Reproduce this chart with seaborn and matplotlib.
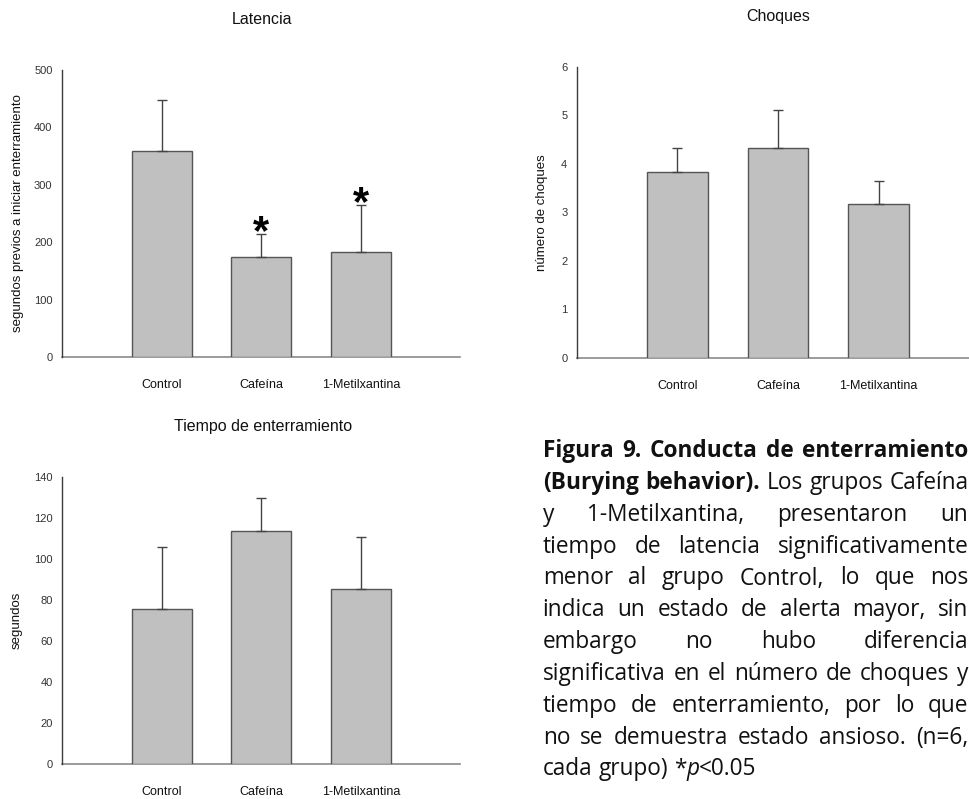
import numpy as np
import pandas as pd
import matplotlib
matplotlib.use("Agg")
import matplotlib.pyplot as plt
import seaborn as sns

# ---- data -------------------------------------------------------------
groups = ["Control", "Cafeína", "1-Metilxantina"]

latencia_mean = [359, 175, 183]
latencia_sem = [89, 39, 81]
latencia_sig = [False, True, True]

choques_mean = [3.83, 4.33, 3.17]
choques_sem = [0.50, 0.78, 0.47]

tiempo_mean = [75.7, 113.8, 85.3]
tiempo_sem = [30.0, 16.1, 25.3]

latencia_ticks = [0, 100, 200, 300, 400, 500]
choques_ticks = [0, 1, 2, 3, 4, 5, 6]
tiempo_ticks = [0, 20, 40, 60, 80, 100, 120, 140]

caption_lines = [
    [("Figura 9. Conducta de enterramiento", "bold")],
    [("(Burying behavior).", "bold"), (" Los grupos Cafeína", "normal")],
    [("y 1-Metilxantina, presentaron un", "normal")],
    [("tiempo de latencia significativamente", "normal")],
    [("menor al grupo Control, lo que nos", "normal")],
    [("indica un estado de alerta mayor, sin", "normal")],
    [("embargo no hubo diferencia", "normal")],
    [("significativa en el número de choques y", "normal")],
    [("tiempo de enterramiento, por lo que", "normal")],
    [("no se demuestra estado ansioso. (n=6,", "normal")],
    [("cada grupo) *", "normal"), ("p", "italic"), ("<0.05", "normal")],
]

# ---- style ------------------------------------------------------------
sns.set_style("white")
plt.rcParams["font.family"] = ["Liberation Sans", "DejaVu Sans"]

BAR_FILL = "#c0c0c0"
BAR_EDGE = "#555555"
ERR_COLOR = "#444444"
YAXIS_COLOR = "#3a3a3a"
XAXIS_COLOR = "#8a8a8a"
TEXT_COLOR = "#111111"

W, H = 970, 799
fig = plt.figure(figsize=(W / 100, H / 100), dpi=100)


def axes_px(left, top, right, bottom):
    return fig.add_axes([left / W, 1 - bottom / H, (right - left) / W, (bottom - top) / H])


def fig_text_px(x, y, s, **kw):
    return fig.text(x / W, 1 - y / H, s, **kw)


def draw_panel(ax, means, sems, yticks):
    df = pd.DataFrame({"grupo": groups, "valor": means})
    sns.barplot(data=df, x="grupo", y="valor", ax=ax, color=BAR_FILL,
                saturation=1, width=0.6, edgecolor=BAR_EDGE, linewidth=1.0,
                errorbar=None)
    pos = np.arange(len(groups))
    ax.errorbar(pos, means, yerr=[np.zeros(len(sems)), sems], fmt="none",
                ecolor=ERR_COLOR, elinewidth=1.0, capsize=3.3, capthick=1.0,
                zorder=3)
    ax.set_xlim(-1, 3)
    ax.set_ylim(yticks[0], yticks[-1])
    ax.set_yticks(yticks)
    ax.set_xticks([-1, 0, 1, 2, 3])
    ax.set_xticklabels([""] + groups + [""])
    ax.set_xlabel("")
    ax.set_ylabel("")
    for side in ("top", "right"):
        ax.spines[side].set_visible(False)
    ax.spines["left"].set_color(YAXIS_COLOR)
    ax.spines["left"].set_linewidth(1.0)
    ax.spines["bottom"].set_color(XAXIS_COLOR)
    ax.spines["bottom"].set_linewidth(1.2)
    ax.spines["bottom"].set_zorder(0.5)
    ax.tick_params(axis="y", direction="out", length=3.2, width=1.0,
                   color=YAXIS_COLOR, labelsize=8, labelcolor="#333333", pad=3.6)
    ax.tick_params(axis="x", direction="out", length=3.2, width=1.0,
                   color=XAXIS_COLOR, labelsize=9, labelcolor=TEXT_COLOR, pad=12.5)
    ax.set_facecolor("none")
    ax.grid(False)


# ---- panels -----------------------------------------------------------
ax1 = axes_px(62, 70, 460.5, 357)
draw_panel(ax1, latencia_mean, latencia_sem, latencia_ticks)
for i, sig in enumerate(latencia_sig):
    if sig:
        ax1.annotate("*", xy=(i, latencia_mean[i] + latencia_sem[i]),
                     xytext=(0, -7.2), textcoords="offset points",
                     ha="center", va="baseline", fontsize=30, fontweight="bold",
                     color="#000000")
fig_text_px(262, 20, "Latencia", ha="center", va="center", fontsize=11.5, color=TEXT_COLOR)
fig_text_px(18.3, 213.5, "segundos previos a iniciar enterramiento", rotation=90,
            ha="center", va="center", fontsize=9.5, color=TEXT_COLOR)

ax2 = axes_px(576.8, 66.7, 979.3, 357.7)
draw_panel(ax2, choques_mean, choques_sem, choques_ticks)
fig_text_px(778.5, 17, "Choques", ha="center", va="center", fontsize=11.5, color=TEXT_COLOR)
fig_text_px(542.3, 213, "número de choques", rotation=90,
            ha="center", va="center", fontsize=9.5, color=TEXT_COLOR)

ax3 = axes_px(62, 477, 460.5, 764.3)
draw_panel(ax3, tiempo_mean, tiempo_sem, tiempo_ticks)
fig_text_px(263, 427, "Tiempo de enterramiento", ha="center", va="center",
            fontsize=11.5, color=TEXT_COLOR)
fig_text_px(16.7, 620.5, "segundos", rotation=90,
            ha="center", va="center", fontsize=9.5, color=TEXT_COLOR)

# ---- justified caption ------------------------------------------------
CAP_FONT = ["Open Sans", "DejaVu Sans"]
CAP_LEFT, CAP_RIGHT = 542.7, 968.5
CAP_BASE0, CAP_STEP = 457.3, 31.8


def style_kw(style, size):
    kw = dict(family=CAP_FONT, fontsize=size, color=TEXT_COLOR)
    if style == "bold":
        kw["fontweight"] = "bold"
    elif style == "italic":
        kw["fontstyle"] = "italic"
    return kw


def split_words(line):
    words = []
    new_word = True
    for text, style in line:
        parts = text.split(" ")
        for k, part in enumerate(parts):
            if k > 0:
                new_word = True
            if part == "":
                continue
            if new_word or not words:
                words.append([(part, style)])
                new_word = False
            else:
                words[-1].append((part, style))
    return words


renderer = fig.canvas.get_renderer()


def measure(text, style, size):
    t = fig.text(0, 0, text, **style_kw(style, size))
    w = t.get_window_extent(renderer).width
    t.remove()
    return w


def word_width(word, size):
    return sum(measure(s, st, size) for s, st in word)


def space_width(size):
    return measure("a a", "normal", size) - measure("aa", "normal", size)


# size the caption so that its widest line just fills the column
line_words = [split_words(l) for l in caption_lines]
cap_size = 14.0
for _ in range(3):
    sp = space_width(cap_size)
    widest = max(sum(word_width(w, cap_size) for w in ws) + sp * (len(ws) - 1)
                 for ws in line_words[:-1])
    cap_size *= (CAP_RIGHT - CAP_LEFT) * 0.99 / widest

space_w = space_width(cap_size)
for li, ws in enumerate(line_words):
    widths = [word_width(w, cap_size) for w in ws]
    last = li == len(line_words) - 1
    if last or len(ws) < 2:
        gap = space_w
    else:
        gap = (CAP_RIGHT - CAP_LEFT - sum(widths)) / (len(ws) - 1)
    x = CAP_LEFT
    y = CAP_BASE0 + li * CAP_STEP
    for w, ww in zip(ws, widths):
        cx = x
        for s, st in w:
            fig_text_px(cx, y, s, ha="left", va="baseline", **style_kw(st, cap_size))
            cx += measure(s, st, cap_size)
        x += ww + gap

fig.savefig("out.png", dpi=100)
